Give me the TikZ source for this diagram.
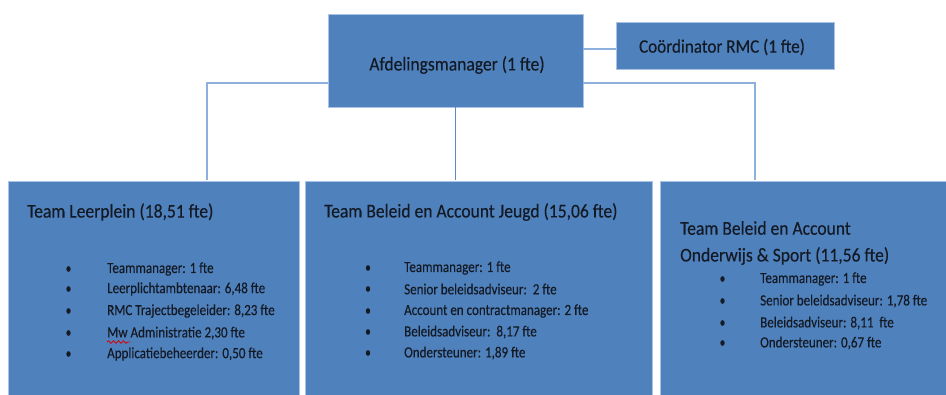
\documentclass[tikz,border=0pt]{standalone}
\usepackage{fontspec}
\setmainfont{Carlito}
\newfontfamily\titlefont[FakeStretch=0.9,FakeBold=0.3]{Carlito}
\newfontfamily\itemfont[FakeStretch=0.84,FakeBold=0.3]{Carlito}
\usetikzlibrary{decorations.pathmorphing,shapes.geometric}
\definecolor{boxblue}{HTML}{4F81BD}
\definecolor{boxedge}{HTML}{A9C3E6}
\definecolor{linkblue}{HTML}{8DB0DE}
\definecolor{linkdark}{HTML}{5A8AC6}
\definecolor{txt}{HTML}{141A24}
\begin{document}
\begin{tikzpicture}[x=1pt,y=-1pt,
  unitbox/.style={fill=boxblue,draw=boxedge,line width=0.8pt},
  link/.style={draw=linkblue,line width=2pt},
  thinlink/.style={draw=linkdark,line width=1.2pt},
  title/.style={text=txt,font=\titlefont\fontsize{19.5}{22}\selectfont,inner sep=0pt,anchor=west},
  item/.style={text=txt,font=\itemfont\fontsize{15.5}{18}\selectfont,inner sep=0pt,anchor=west},
  dot/.style={ellipse,fill=txt,inner sep=0pt,minimum width=4.4pt,minimum height=5.6pt}]
\useasboundingbox (0,0) rectangle (946,394);
\fill[white] (0,0) rectangle (946,394);
\coordinate (lc) at (207,180);
\coordinate (rc) at (755,180);
\coordinate (lk) at (207,83);
\coordinate (rk) at (755,83);
% top boxes
\node[unitbox,minimum width=255pt,minimum height=93pt,inner sep=0pt] (mgr) at (455.5,60.5) {};
\node[text=txt,font=\titlefont\fontsize{19.5}{22}\selectfont,inner sep=0pt] (mgrt) at (457,65) {Afdelingsmanager (1 fte)};
\node[unitbox,minimum width=218pt,minimum height=47pt,inner sep=0pt] (coord) at (725.5,45.5) {};
\node[text=txt,font=\titlefont\fontsize{19}{22}\selectfont,inner sep=0pt] (coordt) at (722,47) {Coördinator RMC (1 fte)};
% connectors
\draw[link] (mgr.east|-0,49) -- (coord.west|-0,49);
\draw[link] (mgr.west|-lk) -- (lk) -- (lc);
\draw[link] (mgr.east|-rk) -- (rk) -- (rc);
\draw[thinlink] (mgr.south) -- (mgr.south|-lc);
% team boxes
\node[unitbox,minimum width=291pt,minimum height=220pt,inner sep=0pt,anchor=north west] (b1) at (7.5,181) {};
\node[unitbox,minimum width=347pt,minimum height=220pt,inner sep=0pt,anchor=north west] (b2) at (305,181) {};
\node[unitbox,minimum width=290pt,minimum height=220pt,inner sep=0pt,anchor=north west] (b3) at (660,181) {};
% box 1
\node[title] (t1) at (27,212) {Team Leerplein (18,51 fte)};
\foreach \i/\y/\t in {1/269/{Teammanager: 1 fte},2/289/{Leerplichtambtenaar: 6,48 fte},3/311/{RMC Trajectbegeleider: 8,23 fte},4/333/{Mw Administratie 2,30 fte},5/354/{Applicatiebeheerder: 0,50 fte}}{
  \node[dot] (d1\i) at (68.5,\y) {};
  \node[item] (i1\i) at (107,\y) {\t};
}
\draw[red!85!black,line width=0.8pt,decorate,decoration={snake,amplitude=1.3pt,segment length=5pt}] (107,342) -- (130,342);
% box 2
\node[title] (t2) at (324,212) {Team Beleid en Account Jeugd (15,06 fte)};
\foreach \i/\y/\t in {1/268/{Teammanager: 1 fte},2/289/{Senior beleidsadviseur:\ \ 2 fte},3/311/{Account en contractmanager: 2 fte},4/332/{Beleidsadviseur:\ \ 8,17 fte},5/353/{Ondersteuner: 1,89 fte}}{
  \node[dot] (d2\i) at (368,\y) {};
  \node[item] (i2\i) at (404,\y) {\t};
}
% box 3
\node[title] (t3a) at (680,228) {Team Beleid en Account};
\node[title] (t3b) at (680,256) {Onderwijs \& Sport (11,56 fte)};
\foreach \i/\y/\t in {1/279/{Teammanager: 1 fte},2/301/{Senior beleidsadviseur: 1,78 fte},3/323/{Beleidsadviseur: 8,11\ \ fte},4/343/{Ondersteuner: 0,67 fte}}{
  \node[dot] (d3\i) at (722.5,\y) {};
  \node[item] (i3\i) at (760,\y) {\t};
}
\end{tikzpicture}
\end{document}
